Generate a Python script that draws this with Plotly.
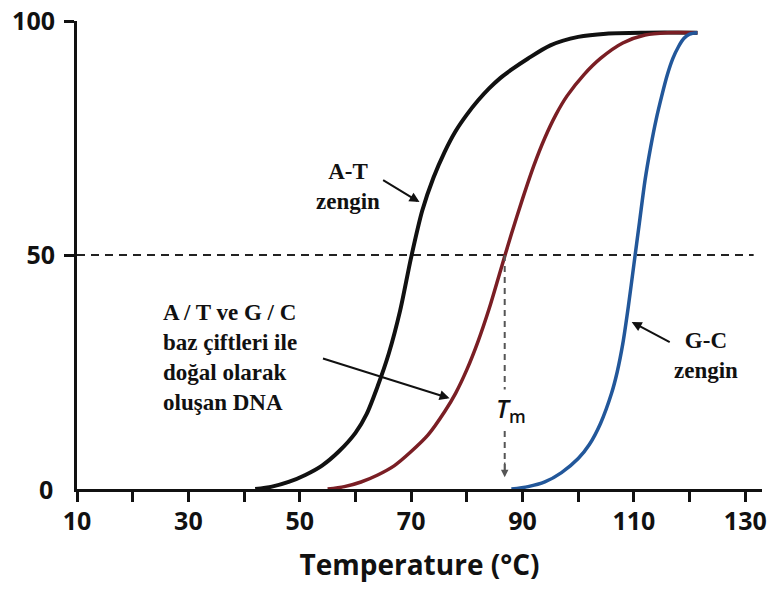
import plotly.graph_objects as go

# A-T rich DNA (black)
temp_at = [42, 45, 48, 51, 54, 57, 60, 62, 64, 66, 68, 70, 72, 74, 76, 78, 80, 82, 84, 86, 88, 91, 95, 100, 105, 112, 121.4]
val_at = [0, 0.5, 1.5, 3, 5, 8, 12, 16, 22, 29, 38, 49.5, 59.5, 66.5, 72, 76.5, 80, 83, 85.6, 87.8, 89.6, 92, 94.8, 96.6, 97.3, 97.5, 97.5]

# naturally occurring DNA (dark red)
temp_nat = [55, 58, 61, 64, 67, 70, 73, 76, 78, 80, 82, 84, 86, 88, 90, 92, 94, 96, 98, 101, 104, 108, 112, 116, 121.4]
val_nat = [0, 0.5, 1.5, 3, 5, 8, 11.5, 16.5, 20.5, 25.5, 31.5, 38.5, 46.5, 54.5, 62, 69, 75, 80, 84, 88.5, 92, 95.3, 97, 97.5, 97.5]

# G-C rich DNA (blue)
temp_gc = [88, 91, 94, 97, 100, 102, 104, 106, 107, 108, 109, 110, 111, 112, 113, 114, 115, 116, 117, 118, 119, 120, 121.4]
val_gc = [0, 0.5, 1.5, 3.5, 6.5, 9.5, 14, 20.5, 25, 31, 39, 48, 57, 66, 73, 79, 84, 88.5, 92, 94.5, 96.3, 97.2, 97.5]

x_ticks = [10, 20, 30, 40, 50, 60, 70, 80, 90, 100, 110, 120, 130]
x_labels = ["10", "", "30", "", "50", "", "70", "", "90", "", "110", "", "130"]
y_ticks = [50, 100]
y_labels = ["50", "100"]
tm_value = 86.8

fig = go.Figure()
fig.add_trace(go.Scatter(x=temp_at, y=val_at, mode="lines",
                         line=dict(color="#111111", width=4, shape="spline", smoothing=0.8)))
fig.add_trace(go.Scatter(x=temp_nat, y=val_nat, mode="lines",
                         line=dict(color="#7a1e24", width=3.5, shape="spline", smoothing=0.8)))
fig.add_trace(go.Scatter(x=temp_gc, y=val_gc, mode="lines",
                         line=dict(color="#22579a", width=3.5, shape="spline", smoothing=0.8)))

# 50% dashed line
fig.add_shape(type="line", xref="x", yref="y", x0=10, x1=131.5, y0=50, y1=50,
              line=dict(color="#222222", width=2, dash="8px,6px"), layer="below")
# Tm vertical dashed line
fig.add_shape(type="line", xref="x", yref="y", x0=tm_value, x1=tm_value, y0=50, y1=4,
              line=dict(color="#555555", width=2, dash="6px,5px"))
fig.add_annotation(x=tm_value, y=2.5, ax=tm_value, ay=6, xref="x", yref="y", axref="x", ayref="y",
                   text="", showarrow=True, arrowhead=2, arrowsize=1, arrowwidth=1.5,
                   arrowcolor="#555555")
fig.add_annotation(x=87.9, y=17, xref="x", yref="y", showarrow=False,
                   text="<i>T</i><sub>m</sub>", bgcolor="white",
                   font=dict(family="Open Sans", size=25, color="#111111", weight=600))

serif = dict(family="Liberation Serif", size=23, color="#111111")

fig.add_annotation(x=71.5, y=61.3, ax=64.7, ay=66.2, xref="x", yref="y", axref="x", ayref="y",
                   text="", showarrow=True, arrowhead=2, arrowsize=1, arrowwidth=2, arrowcolor="#111111")
fig.add_annotation(x=58.6, y=64.7, xref="x", yref="y", showarrow=False,
                   text="<b>A-T<br>zengin</b>", font=serif, align="center")

fig.add_annotation(x=76.9, y=19.4, ax=53.9, ay=28.0, xref="x", yref="y", axref="x", ayref="y",
                   text="", showarrow=True, arrowhead=2, arrowsize=1, arrowwidth=2, arrowcolor="#111111")
fig.add_annotation(x=25.0, y=28.2, xref="x", yref="y", showarrow=False, xanchor="left",
                   text="<b>A / T ve G / C<br>baz çiftleri ile<br>doğal olarak<br>oluşan DNA</b>",
                   font=serif, align="left")

fig.add_annotation(x=109.6, y=35.7, ax=116.7, ay=31.2, xref="x", yref="y", axref="x", ayref="y",
                   text="", showarrow=True, arrowhead=2, arrowsize=1, arrowwidth=2, arrowcolor="#111111")
fig.add_annotation(x=123.0, y=28.6, xref="x", yref="y", showarrow=False,
                   text="<b>G-C<br>zengin</b>", font=serif, align="center")

# "0" label on y axis
fig.add_annotation(x=0, y=0, xref="paper", yref="y", showarrow=False, xanchor="right",
                   xshift=-22, text="0",
                   font=dict(family="Open Sans", size=25, color="#111111", weight="bold"))

tickfont = dict(family="Open Sans", size=25, color="#111111", weight="bold")
fig.update_layout(
    width=777, height=593,
    margin=dict(l=77, r=15, t=21, b=104, autoexpand=False),
    paper_bgcolor="white", plot_bgcolor="white",
    showlegend=False,
    xaxis=dict(range=[10, 133], showgrid=False, zeroline=False, showline=True, automargin=False,
               linecolor="#111111", linewidth=3, ticks="outside", ticklen=10, tickwidth=2.5,
               tickcolor="#111111", tickvals=x_ticks, ticktext=x_labels, tickfont=tickfont,
               ticklabelstandoff=-2,
               title=dict(text="Temperature (°C)", standoff=20,
                          font=dict(family="Open Sans", size=28, color="#111111", weight="bold"))),
    yaxis=dict(range=[0, 100], showgrid=False, zeroline=False, showline=True, automargin=False,
               linecolor="#111111", linewidth=3, ticks="outside", ticklen=10, tickwidth=2.5,
               tickcolor="#111111", tickvals=y_ticks, ticktext=y_labels, tickfont=tickfont,
               ticklabelstandoff=4),
)

fig.write_html("out.html")
